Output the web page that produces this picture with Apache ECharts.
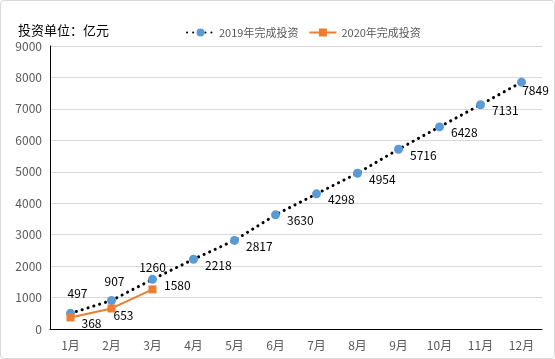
<!DOCTYPE html>
<html><head><meta charset="utf-8">
<script src="https://cdn.jsdelivr.net/npm/echarts@6/dist/echarts.min.js"></script>
<style>html,body{margin:0;padding:0;background:#fff}
#c{width:555px;height:359px;box-sizing:border-box;border:1px solid #d9d9d9;border-radius:4px}</style>
</head><body><div id="c"></div>
<script>
const categories = ['1月','2月','3月','4月','5月','6月','7月','8月','9月','10月','11月','12月'];
const values2019 = [497, 907, 1580, 2218, 2817, 3630, 4298, 4954, 5716, 6428, 7131, 7849];
const values2020 = [368, 653, 1260];
const yTicks = {min: 0, max: 9000, interval: 1000};
const names = ['2019年完成投资', '2020年完成投资'];

const font = '"Noto Sans CJK SC", "Microsoft YaHei", sans-serif';
const chart = echarts.init(document.getElementById('c'), null, {renderer: 'canvas'});

const d2019 = values2019.map((v, i) => {
  let label;
  if (i === 0) label = {position: 'top', offset: [7, -4]};
  else if (i === 1) label = {position: 'top', offset: [3, -4]};
  else if (i === values2019.length - 1) label = {position: 'bottom', offset: [14, -7]};
  else label = {position: 'right', offset: [2, 6]};
  return {value: v, label};
});
const d2020 = values2020.map((v, i) => {
  let label;
  if (i === 0) label = {position: 'right', offset: [2, 6]};
  else if (i === 1) label = {position: 'right', offset: [-7, 7]};
  else label = {position: 'top', offset: [0, -7]};
  return {value: v, label};
});

chart.setOption({
  animation: false,
  textStyle: {fontFamily: font},
  title: {
    text: '投资单位：亿元', left: 12, top: 18,
    textStyle: {fontSize: 13, fontWeight: 'normal', color: '#000', fontFamily: font}
  },
  legend: {
    top: 21, left: 180, itemGap: 10, itemWidth: 27, itemHeight: 10,
    textStyle: {color: '#595959', fontSize: 11, fontFamily: font},
    data: [names[0], names[1]]
  },
  grid: {left: 49, right: 12, top: 45, bottom: 29, containLabel: false},
  xAxis: {
    type: 'category', data: categories, boundaryGap: true,
    axisLine: {lineStyle: {color: '#000', width: 1}},
    axisTick: {show: false},
    axisLabel: {color: '#595959', fontSize: 12, margin: 10, fontFamily: font}
  },
  yAxis: {
    type: 'value', min: yTicks.min, max: yTicks.max, interval: yTicks.interval,
    axisLine: {show: true, lineStyle: {color: '#000', width: 1}},
    axisTick: {show: false},
    axisLabel: {color: '#595959', fontSize: 12, margin: 8, fontFamily: font,
      formatter: v => String(v)},
    splitLine: {lineStyle: {color: '#d9d9d9', width: 1}}
  },
  series: [
    {
      name: names[0], type: 'line', data: d2019,
      symbol: 'circle', symbolSize: 9,
      itemStyle: {color: '#5b9bd5'},
      lineStyle: {color: '#000', width: 3, type: [0.1, 6], cap: 'round'},
      label: {show: true, color: '#000', fontSize: 12, fontFamily: font},
      z: 3
    },
    {
      name: names[1], type: 'line', data: d2020,
      symbol: 'rect', symbolSize: 8,
      itemStyle: {color: '#ed7d31'},
      lineStyle: {color: '#ed7d31', width: 2},
      label: {show: true, color: '#000', fontSize: 12, fontFamily: font},
      z: 4
    }
  ]
});
</script></body></html>
